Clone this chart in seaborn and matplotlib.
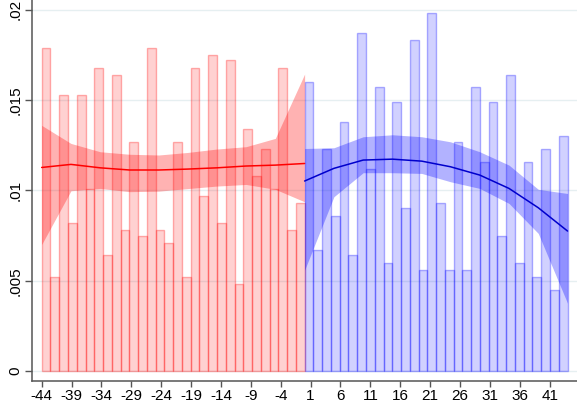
import numpy as np
import pandas as pd
import matplotlib
matplotlib.use("Agg")
import matplotlib.pyplot as plt
import seaborn as sns

# histogram densities, 30 bins each side of the cutoff
left_density = [0.0179, 0.0052, 0.0153, 0.0082, 0.0153, 0.0101, 0.0168, 0.0064, 0.0164, 0.0078,
                0.0127, 0.0075, 0.0179, 0.0078, 0.0071, 0.0127, 0.0052, 0.0168, 0.0097, 0.0175,
                0.0082, 0.0172, 0.0048, 0.0134, 0.0108, 0.0123, 0.0101, 0.0168, 0.0078, 0.0093]
right_density = [0.0160, 0.0067, 0.0123, 0.0086, 0.0138, 0.0064, 0.0187, 0.0112, 0.0157, 0.0060,
                 0.0149, 0.0090, 0.0183, 0.0056, 0.0198, 0.0093, 0.0056, 0.0127, 0.0056, 0.0157,
                 0.0116, 0.0149, 0.0075, 0.0164, 0.0060, 0.0116, 0.0052, 0.0123, 0.0045, 0.0130]

# local fit with confidence band
left_x = [-44, -39.1, -34.2, -29.3, -24.4, -19.6, -14.7, -9.8, -4.9, 0]
left_fit = [0.01127, 0.01144, 0.01125, 0.01113, 0.01113, 0.01118, 0.01125, 0.01135, 0.01140, 0.01149]
left_hi = [0.01360, 0.01260, 0.01214, 0.01200, 0.01196, 0.01210, 0.01229, 0.01242, 0.01288, 0.01644]
left_lo = [0.00701, 0.00998, 0.01011, 0.00993, 0.00996, 0.01010, 0.01024, 0.01033, 0.01006, 0.00937]

right_x = [0, 4.9, 9.8, 14.7, 19.6, 24.4, 29.3, 34.2, 39.1, 44]
right_fit = [0.01052, 0.01122, 0.01168, 0.01173, 0.01162, 0.01131, 0.01085, 0.01011, 0.00904, 0.00775]
right_hi = [0.01232, 0.01236, 0.01297, 0.01308, 0.01297, 0.01269, 0.01214, 0.01140, 0.01006, 0.00983]
right_lo = [0.00559, 0.00965, 0.01098, 0.01098, 0.01094, 0.01048, 0.01011, 0.00928, 0.00762, 0.00375]

xticks = [-44, -39, -34, -29, -24, -19, -14, -9, -4, 1, 6, 11, 16, 21, 26, 31, 36, 41]
yticks = [0, 0.005, 0.01, 0.015, 0.02]
ytick_labels = ["0", ".005", ".01", ".015", ".02"]

sns.set_style("white")
plt.rcParams["font.family"] = ["Liberation Sans", "DejaVu Sans"]

fig = plt.figure(figsize=(5.77, 4.05), dpi=100)
ax = fig.add_axes([32 / 577, 24 / 405, 545 / 577, 381 / 405])

for yt in yticks:
    ax.axhline(yt, color="#e6eff1", lw=1.0, zorder=0)

sides = [
    (np.linspace(-44, 0, 31), left_density, "red"),
    (np.linspace(0, 44, 31), right_density, "blue"),
]
for edges, dens, col in sides:
    centers = (edges[:-1] + edges[1:]) / 2
    df = pd.DataFrame({"x": centers, "w": dens})
    n_before = len(ax.patches)
    sns.histplot(data=df, x="x", weights="w", bins=list(edges), ax=ax, color=col, zorder=1)
    rgb = matplotlib.colors.to_rgb(col)
    for p in ax.patches[n_before:]:
        p.set_alpha(None)
        p.set_facecolor((*rgb, 0.18))
        p.set_edgecolor((*rgb, 0.3))
        p.set_linewidth(1.0)

ax.fill_between(left_x, left_lo, left_hi, color="red", alpha=0.3, lw=0, zorder=2)
ax.fill_between(right_x, right_lo, right_hi, color="blue", alpha=0.3, lw=0, zorder=2)

fit = pd.DataFrame({
    "x": left_x + right_x,
    "y": left_fit + right_fit,
    "side": ["left"] * len(left_x) + ["right"] * len(right_x),
})
sns.lineplot(data=fit, x="x", y="y", hue="side", palette={"left": "red", "right": "#0000cc"},
             lw=1.1, legend=False, ax=ax, zorder=3)

ax.set_xlim(-45.62, 45.58)
ax.set_ylim(-0.00055, 0.02054)
ax.set_xticks(xticks)
ax.set_xticklabels([str(t) for t in xticks], fontsize=11)
ax.set_yticks(yticks)
ax.set_yticklabels(ytick_labels, fontsize=11, rotation=90, va="center")
ax.set_xlabel("")
ax.set_ylabel("")

sns.despine(ax=ax, top=True, right=True)
for s in ["left", "bottom"]:
    ax.spines[s].set_color("#555555")
    ax.spines[s].set_linewidth(1.1)
ax.tick_params(axis="x", length=4, width=1, color="#555555", pad=2, labelcolor="black", bottom=True)
ax.tick_params(axis="y", length=5, width=1, color="#555555", pad=2, labelcolor="black", left=True)

fig.savefig("out.png", dpi=100)
